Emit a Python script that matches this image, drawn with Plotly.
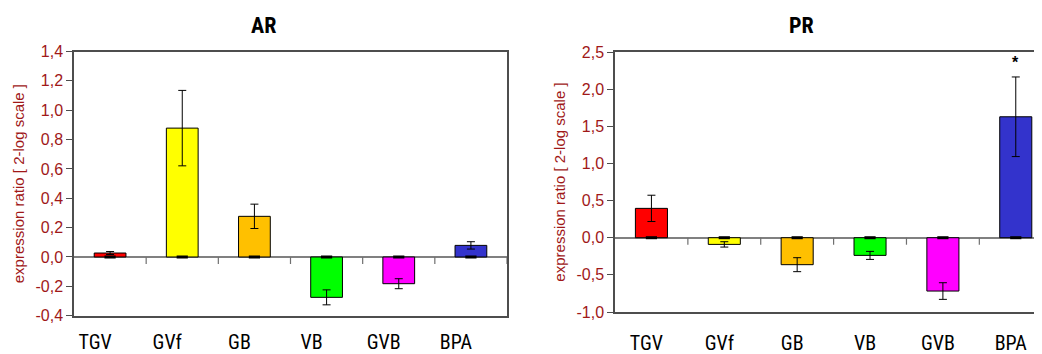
import plotly.graph_objects as go

categories = ["TGV", "GVf", "GB", "VB", "GVB", "BPA"]
colors = ["#FF0000", "#FFFF00", "#FFC000", "#00FF00", "#FF00FF", "#3333CC"]

ar_values = [0.027, 0.878, 0.277, -0.275, -0.182, 0.079]
ar_errors = [0.010, 0.257, 0.083, 0.051, 0.034, 0.025]
pr_values = [0.395, -0.09, -0.363, -0.238, -0.718, 1.628]
pr_errors = [0.177, 0.036, 0.094, 0.054, 0.112, 0.536]
pr_signif = ["", "", "", "", "", "*"]

ar_ticks = [-0.4, -0.2, 0.0, 0.2, 0.4, 0.6, 0.8, 1.0, 1.2, 1.4]
ar_ticktext = ["-0,4", "-0,2", "0,0", "0,2", "0,4", "0,6", "0,8", "1,0", "1,2", "1,4"]
pr_ticks = [-1.0, -0.5, 0.0, 0.5, 1.0, 1.5, 2.0, 2.5]
pr_ticktext = ["-1,0", "-0,5", "0,0", "0,5", "1,0", "1,5", "2,0", "2,5"]

# page has an 8px body margin; work in page pixels and convert
OFF = 8
W, H = 1042 - OFF, 354 - OFF


def fx(px):
    return (px - OFF) / W


def fy(py):
    return 1 - (py - OFF) / H


RED = "#A01818"
LINE = "#4d4d4d"
NARROW = "Roboto Condensed, Liberation Sans Narrow, Arial Narrow, DejaVu Sans Condensed, Roboto, sans-serif"

fig = go.Figure()
xs = list(range(len(categories)))

for vals, errs, xa, ya in [(ar_values, ar_errors, "x", "y"), (pr_values, pr_errors, "x2", "y2")]:
    fig.add_trace(go.Bar(
        x=xs, y=vals, width=0.44, xaxis=xa, yaxis=ya,
        marker=dict(color=colors, line=dict(color="black", width=1)),
        error_y=dict(type="data", array=errs, visible=True, color="black", thickness=1, width=4),
        showlegend=False, hoverinfo="skip"))
    fig.add_trace(go.Scatter(
        x=xs, y=[0] * len(xs), mode="markers", xaxis=xa, yaxis=ya,
        marker=dict(symbol="line-ew", size=8, line=dict(color="black", width=3)),
        showlegend=False, hoverinfo="skip"))

# boundary tick marks below the zero line
shapes = []
for xref, yref in [("x", "y"), ("x2", "y2")]:
    for i in range(len(categories)):
        shapes.append(dict(type="line", xref=xref, yref=yref, x0=i + 0.5, x1=i + 0.5,
                           ysizemode="pixel", yanchor=0, y0=0, y1=-7,
                           line=dict(color="#707070", width=1.2)))

annotations = [
    dict(text="<b>AR</b>", x=fx(263), y=fy(25), xref="paper", yref="paper",
         xanchor="center", yanchor="middle",
         showarrow=False, font=dict(size=22, family=NARROW, color="black")),
    dict(text="<b>PR</b>", x=fx(801), y=fy(25), xref="paper", yref="paper",
         xanchor="center", yanchor="middle",
         showarrow=False, font=dict(size=22, family=NARROW, color="black")),
]
for i, s in enumerate(pr_signif):
    if s:
        annotations.append(dict(text="<b>" + s + "</b>", x=i, y=pr_values[i] + pr_errors[i],
                                xref="x2", yref="y2", yshift=14, showarrow=False,
                                font=dict(size=16, color="black", family="Arial, Liberation Sans")))

yax_common = dict(showline=True, linecolor=LINE, linewidth=1.5, mirror=True, automargin=False,
                  ticks="outside", ticklen=6, tickcolor=LINE, tickwidth=1.2,
                  showgrid=False, zeroline=True, zerolinecolor="#808080", zerolinewidth=1.5,
                  tickfont=dict(size=16, color=RED, family="Liberation Sans, Arial"),
                  title=dict(text="expression ratio [ 2-log scale ]",
                             font=dict(size=15, color=RED, family="Liberation Sans, Arial"),
                             standoff=7))
xax_common = dict(showline=True, linecolor=LINE, linewidth=1.5, mirror=True, automargin=False,
                  showgrid=False, zeroline=False, ticks="",
                  tickvals=xs, ticktext=categories,
                  tickfont=dict(size=20, color="black", family=NARROW))

fig.update_layout(
    width=W, height=H, plot_bgcolor="white", paper_bgcolor="white",
    margin=dict(l=0, r=0, t=0, b=0),
    xaxis=dict(**xax_common, domain=[fx(74), fx(507)], range=[-0.5, 5.5], anchor="y",
               ticklabelstandoff=8, ticklabelshift=-15),
    yaxis=dict(**yax_common, domain=[fy(315.7), fy(51.5)], range=[-0.4, 1.4],
               tickvals=ar_ticks, ticktext=ar_ticktext, anchor="x"),
    xaxis2=dict(**xax_common, domain=[fx(615), 1.0], range=[-0.5, 5.36], anchor="y2",
                ticklabelstandoff=12, ticklabelshift=-5),
    yaxis2=dict(**yax_common, domain=[fy(312), fy(52)], range=[-1.0, 2.5],
                tickvals=pr_ticks, ticktext=pr_ticktext, anchor="x2"),
    shapes=shapes, annotations=annotations,
)

fig.write_html("out.html")
